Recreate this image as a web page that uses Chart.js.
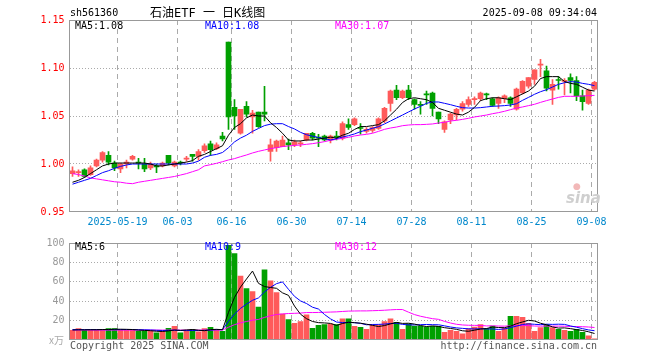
<!DOCTYPE html>
<html>
<head>
<meta charset="utf-8">
<script src="https://cdn.jsdelivr.net/npm/chart.js@4/dist/chart.umd.min.js"></script>
<style>
body { margin: 0; background: #fff; width: 660px; height: 360px; position: relative; overflow: hidden; font: 10px 'DejaVu Sans Mono', monospace; }
canvas { position: absolute; left: 0; }
#kline { top: 0; }
#vol { top: 232px; }
.t { position: absolute; white-space: pre; line-height: 12px; }
</style>
</head>
<body>
<canvas id="kline" width="660" height="232"></canvas>
<canvas id="vol" width="660" height="128"></canvas>

<div class="t" style="left:70px;top:7px">sh561360</div>
<div class="t" style="left:150px;top:6px;font-size:12px;line-height:14px;font-family:'DejaVu Sans Mono','Noto Sans CJK SC',monospace">石油ETF 一 日K线图</div>
<div class="t" style="right:63px;top:7px">2025-09-08 09:34:04</div>
<div class="t" style="left:75px;top:20px">MA5:1.08</div>
<div class="t" style="left:205px;top:20px;color:#0000ff">MA10:1.08</div>
<div class="t" style="left:335px;top:20px;color:#ff00ff">MA30:1.07</div>
<div class="t" style="left:75px;top:241px">MA5:6</div>
<div class="t" style="left:205px;top:241px;color:#0000ff">MA10:9</div>
<div class="t" style="left:335px;top:241px;color:#ff00ff">MA30:12</div>
<div class="t" style="left:49px;top:334px;color:#aaa;font-family:'Noto Sans CJK SC',monospace">x万</div>
<div class="t" style="left:70px;top:340px;color:#555">Copyright 2025 SINA.COM</div>
<div class="t" style="right:63px;top:340px;color:#555">http://finance.sina.com.cn</div>
<div class="t" style="left:573px;top:181px;font:bold 9px 'DejaVu Sans',sans-serif;line-height:10px;color:#f2b8b8">●</div>
<div class="t" style="left:566px;top:189px;font:italic bold 15px 'DejaVu Sans',sans-serif;line-height:18px;color:#cfcfcf">sina</div>

<script>
// trading days shown (MM-DD, 2025)
const dates = [
  '05-07','05-08','05-09','05-12','05-13','05-14','05-15','05-16','05-19','05-20',
  '05-21','05-22','05-23','05-26','05-27','05-28','05-29','05-30','06-03','06-04',
  '06-05','06-06','06-09','06-10','06-11','06-12','06-13','06-16','06-17','06-18',
  '06-19','06-20','06-23','06-24','06-25','06-26','06-27','06-30','07-01','07-02',
  '07-03','07-04','07-07','07-08','07-09','07-10','07-11','07-14','07-15','07-16',
  '07-17','07-18','07-21','07-22','07-23','07-24','07-25','07-28','07-29','07-30',
  '07-31','08-01','08-04','08-05','08-06','08-07','08-08','08-11','08-12','08-13',
  '08-14','08-15','08-18','08-19','08-20','08-21','08-22','08-25','08-26','08-27',
  '08-28','08-29','09-01','09-02','09-03','09-04','09-05','09-08'
];
const tickLabels = ['2025-05-19','06-03','06-16','06-30','07-14','07-28','08-11','08-25','09-08'];

const opens = [
  0.990,0.991,0.994,0.989,0.998,1.004,1.009,1.001,0.995,1.000,
  1.005,1.002,1.000,0.996,0.998,0.998,1.009,0.998,1.002,1.005,
  1.010,1.008,1.014,1.021,1.016,1.029,1.127,1.059,1.032,1.060,
  1.049,1.054,1.054,1.013,1.017,1.018,1.022,1.020,1.021,1.025,
  1.032,1.028,1.029,1.025,1.029,1.027,1.041,1.041,1.038,1.034,
  1.035,1.037,1.045,1.063,1.077,1.069,1.077,1.067,1.062,1.073,
  1.074,1.054,1.036,1.046,1.051,1.057,1.062,1.067,1.068,1.073,
  1.068,1.063,1.068,1.069,1.057,1.074,1.081,1.088,1.103,1.097,
  1.077,1.088,1.086,1.090,1.087,1.071,1.063,1.078
];
const highs = [
  0.997,0.994,0.995,0.998,1.005,1.013,1.013,1.003,1.001,1.004,
  1.009,1.006,1.006,1.002,1.000,1.002,1.009,1.003,1.003,1.008,
  1.010,1.015,1.021,1.024,1.022,1.033,1.127,1.067,1.057,1.065,
  1.056,1.054,1.081,1.026,1.025,1.029,1.026,1.025,1.024,1.032,
  1.033,1.031,1.030,1.030,1.034,1.044,1.047,1.048,1.042,1.038,
  1.039,1.048,1.059,1.077,1.082,1.077,1.082,1.068,1.065,1.076,
  1.075,1.054,1.045,1.053,1.058,1.065,1.070,1.070,1.075,1.074,
  1.069,1.070,1.072,1.070,1.079,1.087,1.090,1.098,1.109,1.102,
  1.088,1.091,1.089,1.094,1.091,1.077,1.078,1.086
];
const lows = [
  0.987,0.987,0.986,0.988,0.997,1.002,0.999,0.993,0.991,0.996,
  1.004,0.995,0.992,0.994,0.991,0.997,0.999,0.997,0.999,1.003,
  1.003,1.004,1.012,1.009,1.015,1.024,1.036,1.036,1.031,1.049,
  1.032,1.038,1.045,1.003,1.013,1.018,1.015,1.018,1.018,1.024,
  1.025,1.018,1.024,1.022,1.025,1.025,1.036,1.040,1.031,1.032,
  1.033,1.036,1.043,1.055,1.067,1.068,1.067,1.057,1.052,1.062,
  1.050,1.042,1.033,1.042,1.046,1.055,1.060,1.062,1.066,1.067,
  1.060,1.058,1.064,1.060,1.056,1.073,1.079,1.083,1.091,1.076,
  1.062,1.078,1.072,1.074,1.066,1.056,1.062,1.077
];
const closes = [
  0.993,0.992,0.987,0.996,1.004,1.012,1.002,0.996,1.000,1.002,
  1.008,1.001,0.995,1.000,0.997,1.001,1.001,1.002,1.001,1.006,
  1.008,1.013,1.019,1.015,1.020,1.026,1.049,1.050,1.057,1.052,
  1.053,1.039,1.052,1.020,1.024,1.025,1.020,1.023,1.022,1.032,
  1.027,1.027,1.025,1.029,1.028,1.042,1.038,1.047,1.037,1.036,
  1.038,1.047,1.058,1.076,1.069,1.076,1.069,1.062,1.061,1.072,
  1.058,1.047,1.044,1.052,1.057,1.063,1.067,1.068,1.074,1.072,
  1.061,1.069,1.071,1.063,1.078,1.086,1.090,1.098,1.104,1.079,
  1.083,1.087,1.087,1.087,1.071,1.065,1.077,1.085
];
const ma5 = [
  0.981,0.983,0.986,0.990,0.994,0.998,1.000,1.001,1.001,1.001,
  1.001,1.001,1.001,1.000,0.998,0.998,0.999,1.000,1.001,1.002,
  1.0035,1.008,1.010,1.013,1.016,1.019,1.030,1.038,1.042,1.048,
  1.051,1.050,1.050,1.043,1.038,1.032,1.025,1.024,1.024,1.025,
  1.025,1.026,1.027,1.028,1.027,1.030,1.032,1.036,1.039,1.039,
  1.040,1.041,1.045,1.051,1.057,1.064,1.068,1.069,1.068,1.067,
  1.064,1.058,1.056,1.054,1.052,1.051,1.054,1.059,1.066,1.068,
  1.069,1.069,1.068,1.067,1.070,1.073,1.076,1.081,1.089,1.091,
  1.091,1.091,1.086,1.084,1.083,1.080,1.077,1.076
];
const ma10 = [
  0.979,0.981,0.983,0.985,0.988,0.991,0.993,0.9955,0.9975,0.999,
  1.000,1.000,1.000,1.000,1.000,1.000,1.000,1.000,1.000,1.000,
  1.001,1.003,1.007,1.009,1.010,1.012,1.017,1.023,1.027,1.030,
  1.034,1.037,1.040,1.0415,1.042,1.042,1.039,1.0365,1.033,1.0305,
  1.029,1.0276,1.0264,1.025,1.0264,1.0281,1.0295,1.0313,1.0337,1.0354,
  1.0372,1.0389,1.0417,1.0448,1.0479,1.051,1.0542,1.0573,1.0601,1.0632,
  1.0646,1.0646,1.0632,1.0618,1.0601,1.0587,1.0583,1.0583,1.0587,1.0594,
  1.0601,1.0604,1.0608,1.0615,1.0628,1.0663,1.0694,1.0726,1.0753,1.0774,
  1.0802,1.083,1.0847,1.0858,1.0854,1.084,1.083,1.0816
];
const ma30 = [
  0.990,0.989,0.9875,0.9855,0.9845,0.9835,0.9825,0.9815,0.981,0.980,
  0.9795,0.981,0.982,0.983,0.984,0.985,0.986,0.987,0.9885,0.990,
  0.992,0.994,0.998,0.9993,1.0007,1.0024,1.0042,1.0056,1.0076,1.0094,
  1.0115,1.0132,1.0146,1.016,1.017,1.0181,1.0188,1.0194,1.0198,1.0205,
  1.0212,1.0222,1.0233,1.0247,1.0257,1.0267,1.0278,1.0292,1.0302,1.0309,
  1.032,1.034,1.0361,1.0375,1.0385,1.0399,1.0406,1.041,1.041,1.0413,
  1.0417,1.0427,1.0434,1.0448,1.0455,1.0465,1.0476,1.049,1.050,1.051,
  1.0524,1.0535,1.0549,1.0566,1.0583,1.0594,1.0608,1.0622,1.0642,1.066,
  1.0677,1.0694,1.0705,1.0705,1.0705,1.0708,1.0712,1.0715
];

// volume, 万手
const vols = [
  10,11.7,10,10.7,10.7,10.7,11.7,11.7,10.7,10,
  10,9.3,9.3,9.3,7.3,9,12,14,7.3,9.7,
  11,8.3,11.7,13,11,9,97.7,89,66,53,
  50,34,72.3,61,49,26.7,21,17.3,19,26,
  12,15,16,16.3,16,21.7,21.7,14,13,11,
  15.7,15.7,19,21.7,18.3,11,16.7,14.3,14.3,13.3,
  14,14,8,10,9,6.3,11.7,13.3,16,11.7,
  14.3,9,12.3,24.3,24.3,23.3,17.3,9,12.7,16,
  12.7,11,10,9,11,8,4.3,1.3
];
const vma5 = [
  10.3,10.5,10.5,10.6,10.6,10.8,10.8,11.1,11.1,11.0,
  10.8,10.3,9.9,9.6,9.0,8.8,9.4,10.3,9.9,10.4,
  10.8,10.1,9.6,10.7,11.0,10.6,28.5,43.9,54.5,62.9,
  71.1,58.4,55.1,54.1,53.3,48.6,46.0,35.0,26.6,22.0,
  19.1,17.9,17.6,17.1,15.1,17.0,18.3,17.9,17.3,16.3,
  15.1,13.9,14.9,16.6,18.1,17.1,17.3,16.4,14.9,13.9,
  14.5,14.0,12.7,11.9,11.0,9.5,9.0,10.1,11.3,11.8,
  13.4,12.9,12.7,14.3,16.8,18.6,20.3,19.6,17.3,15.7,
  13.5,12.3,12.5,11.7,10.7,9.8,8.5,6.7
];
const vma10 = [
  10.7,10.7,10.7,10.7,10.7,10.7,10.7,10.7,10.7,10.8,
  10.8,10.6,10.5,10.3,10.0,9.8,9.9,10.1,9.8,9.7,
  9.8,9.7,10.0,10.3,10.7,10.7,19.3,26.8,32.6,37.0,
  40.9,43.4,49.5,54.3,58.1,59.9,52.2,45.0,40.3,37.6,
  33.8,31.9,26.3,21.8,18.5,18.0,18.1,17.8,17.2,15.7,
  16.0,16.1,16.4,17.0,17.2,16.1,15.6,15.6,15.8,16.0,
  15.8,15.7,14.6,13.4,12.5,12.0,11.5,11.4,11.6,11.4,
  11.4,10.9,11.4,12.8,14.3,16.0,16.6,16.2,15.8,16.3,
  16.1,16.3,16.1,14.5,13.2,11.7,10.4,9.6
];
const vma30 = [
  10.2,10.2,10.2,10.2,10.2,10.2,10.2,10.2,10.2,10.2,
  10.2,10.2,10.2,10.2,10.2,10.2,10.2,10.2,10.2,10.2,
  10.2,10.2,10.2,10.2,10.2,10.2,13.2,15.8,17.7,19.1,
  20.4,21.2,23.3,25.0,26.3,26.9,27.3,27.5,27.8,28.3,
  28.3,28.4,28.6,28.8,29.0,29.4,29.8,29.9,30.0,30.0,
  30.2,30.4,30.7,31.1,31.4,31.4,28.7,26.2,24.5,23.2,
  22.0,21.3,19.2,17.5,16.2,15.5,15.2,15.1,15.0,14.5,
  14.6,14.4,14.3,14.6,14.9,14.9,14.8,14.4,14.3,14.4,
  14.3,14.3,14.2,13.9,13.9,13.7,13.4,12.9
];

const UP = '#ff5a5a';
const DOWN = '#00a000';
const colors = closes.map((c, i) => c >= opens[i] ? UP : DOWN);
const tickIdx = tickLabels.map(t => dates.indexOf(t.slice(-5)));
const monoFont = { family: 'DejaVu Sans Mono', size: 10 };
const hidden = 'rgba(0,0,0,0)';

// grey frame round each plot area
const frame = {
  id: 'frame',
  afterDraw(chart) {
    const { ctx, chartArea: a } = chart;
    ctx.save();
    ctx.strokeStyle = '#999';
    ctx.lineWidth = 1;
    ctx.strokeRect(a.left, Math.round(a.top) + 0.5, a.right - a.left, Math.round(a.bottom - a.top) - 1);
    ctx.restore();
  }
};

function xScale(showTicks) {
  return {
    offset: true,
    afterFit(s) { s.height = showTicks ? 20 : 0; },
    grid: {
      offset: true,
      drawTicks: false,
      color: c => tickIdx.includes(c.index) ? '#aaa' : hidden
    },
    border: { display: false, dash: [5, 4] },
    ticks: {
      display: showTicks,
      autoSkip: false,
      maxRotation: 0,
      minRotation: 0,
      padding: 4,
      labelOffset: -3,
      color: '#0088cc',
      font: monoFont,
      callback: (v, i) => {
        const k = tickIdx.indexOf(i);
        return k < 0 ? '' : tickLabels[k];
      }
    }
  };
}

function maLine(data, color) {
  return { type: 'line', data: data, borderColor: color, borderWidth: 1, pointRadius: 0, tension: 0, order: 0 };
}

new Chart(document.getElementById('kline'), {
  type: 'bar',
  data: {
    labels: dates,
    datasets: [
      {
        data: lows.map((l, i) => [l, highs[i]]),
        backgroundColor: colors,
        barThickness: 1,
        grouped: false,
        order: 2
      },
      {
        data: opens.map((o, i) => [o, closes[i]]),
        backgroundColor: colors,
        barThickness: 5,
        minBarLength: 1,
        grouped: false,
        order: 1
      },
      maLine(ma5, '#000000'),
      maLine(ma10, '#0000ff'),
      maLine(ma30, '#ff00ff')
    ]
  },
  options: {
    responsive: false,
    animation: false,
    devicePixelRatio: 1,
    events: [],
    layout: { padding: { left: 0, right: 62.5, top: 20, bottom: 0 } },
    scales: {
      x: xScale(true),
      y: {
        min: 0.95,
        max: 1.15,
        afterFit(s) { s.width = 69.5; },
        grid: {
          drawTicks: false,
          color: c => (c.tick && c.tick.value > 0.96 && c.tick.value < 1.14) ? '#aaa' : hidden
        },
        border: { display: false, dash: [1, 2] },
        ticks: {
          stepSize: 0.05,
          padding: 5,
          color: '#ff0000',
          font: monoFont,
          callback: v => v.toFixed(2)
        }
      }
    },
    plugins: { legend: { display: false }, tooltip: { enabled: false } }
  },
  plugins: [frame]
});

new Chart(document.getElementById('vol'), {
  type: 'bar',
  data: {
    labels: dates,
    datasets: [
      {
        data: vols,
        backgroundColor: colors,
        barThickness: 5,
        order: 1
      },
      maLine(vma5, '#000000'),
      maLine(vma10, '#0000ff'),
      maLine(vma30, '#ff00ff')
    ]
  },
  options: {
    responsive: false,
    animation: false,
    devicePixelRatio: 1,
    events: [],
    layout: { padding: { left: 0, right: 62.5, top: 8, bottom: 20 } },
    scales: {
      x: xScale(false),
      y: {
        min: 0,
        max: 100,
        afterFit(s) { s.width = 69.5; },
        grid: {
          drawTicks: false,
          color: c => (c.tick && c.tick.value > 0 && c.tick.value < 100) ? '#aaa' : hidden
        },
        border: { display: false, dash: [1, 2] },
        ticks: {
          stepSize: 20,
          padding: 5,
          color: '#999',
          font: monoFont,
          callback: v => v === 0 ? '' : v
        }
      }
    },
    plugins: { legend: { display: false }, tooltip: { enabled: false } }
  },
  plugins: [frame]
});
</script>
</body>
</html>
